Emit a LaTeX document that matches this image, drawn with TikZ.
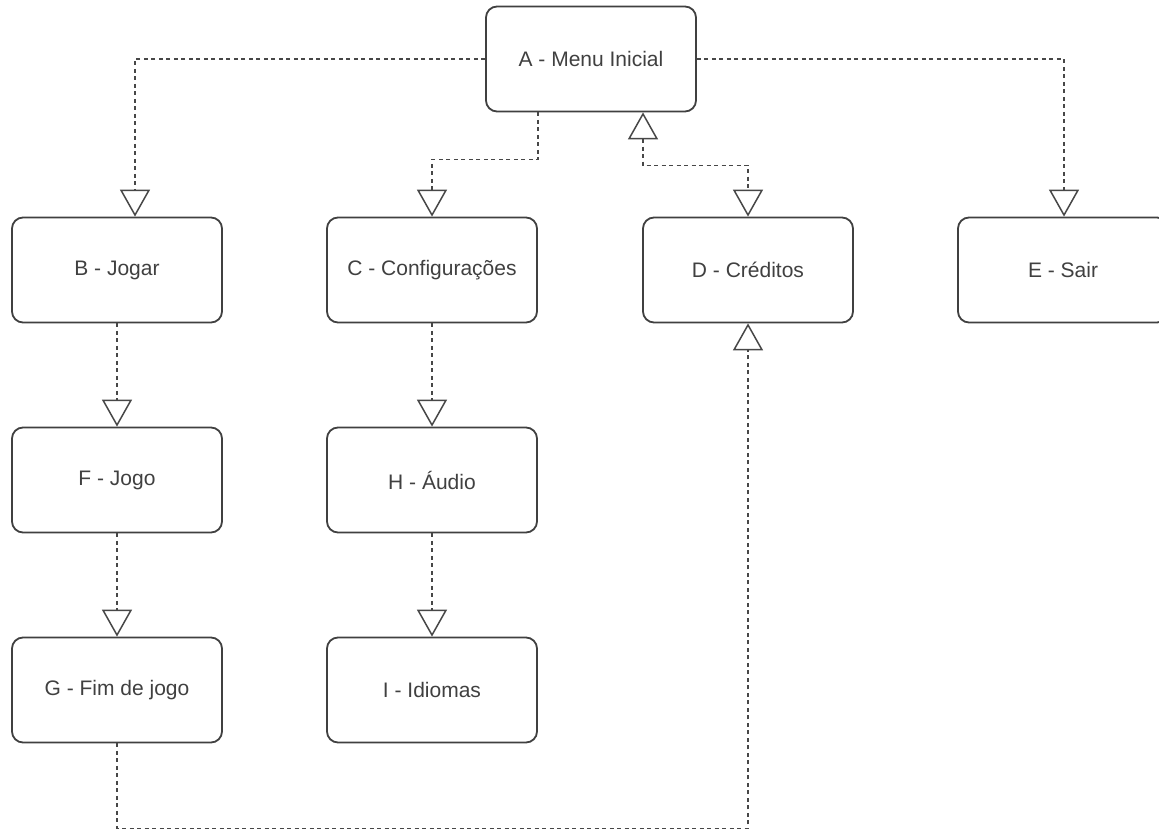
\documentclass[tikz,border=0pt]{standalone}
\usepackage{fontspec}
\setmainfont{Liberation Sans}
\usetikzlibrary{arrows.meta,calc}
\begin{document}
\begin{tikzpicture}[x=1pt,y=-1pt,
  box/.style={draw=black!75, line width=1.8pt, rounded corners=11pt, minimum width=210pt, minimum height=105pt, inner sep=0pt, text=black!75, font=\fontsize{21}{25}\selectfont},
  conn/.style={draw=black!72, line width=1.5pt, dash pattern=on 4pt off 3.5pt},
  >={Triangle[open,width=30pt,length=27pt,fill=white]},
]
\useasboundingbox (0,0) rectangle (1159,830);
\clip (0,0) rectangle (1159,830);
\fill[white] (0,0) rectangle (1159,830);
\node[box] (A) at (591,59) {A - Menu Inicial};
\node[box] (B) at (117,270) {B - Jogar};
\node[box] (C) at (432,270) {C - Configurações};
\node[box] (D) at (748,270) {D - Créditos};
\node[box] (E) at (1063,270) {E - Sair};
\node[box] (F) at (117,480) {F - Jogo};
\node[box] (H) at (432,480) {H - Áudio};
\node[box] (G) at (117,690) {G - Fim de jogo};
\node[box] (I) at (432,690) {I - Idiomas};
\draw[conn,->] (A.west) -| ($(B.north)+(18,0)$);
\draw[conn,->] (A.east) -| ($(E.north)+(1,0)$);
\draw[conn,->] ($(A.south)+(-53,0)$) -- ++(0,47) -| (C.north);
\draw[conn,<->] ($(A.south)+(52,0)$) -- ++(0,53) -| (D.north);
\draw[conn,->] (B.south) -- (F.north);
\draw[conn,->] (F.south) -- (G.north);
\draw[conn,->] (C.south) -- (H.north);
\draw[conn,->] (H.south) -- (I.north);
\draw[conn,->] (G.south) -- ++(0,85) -| (D.south);
\end{tikzpicture}
\end{document}
